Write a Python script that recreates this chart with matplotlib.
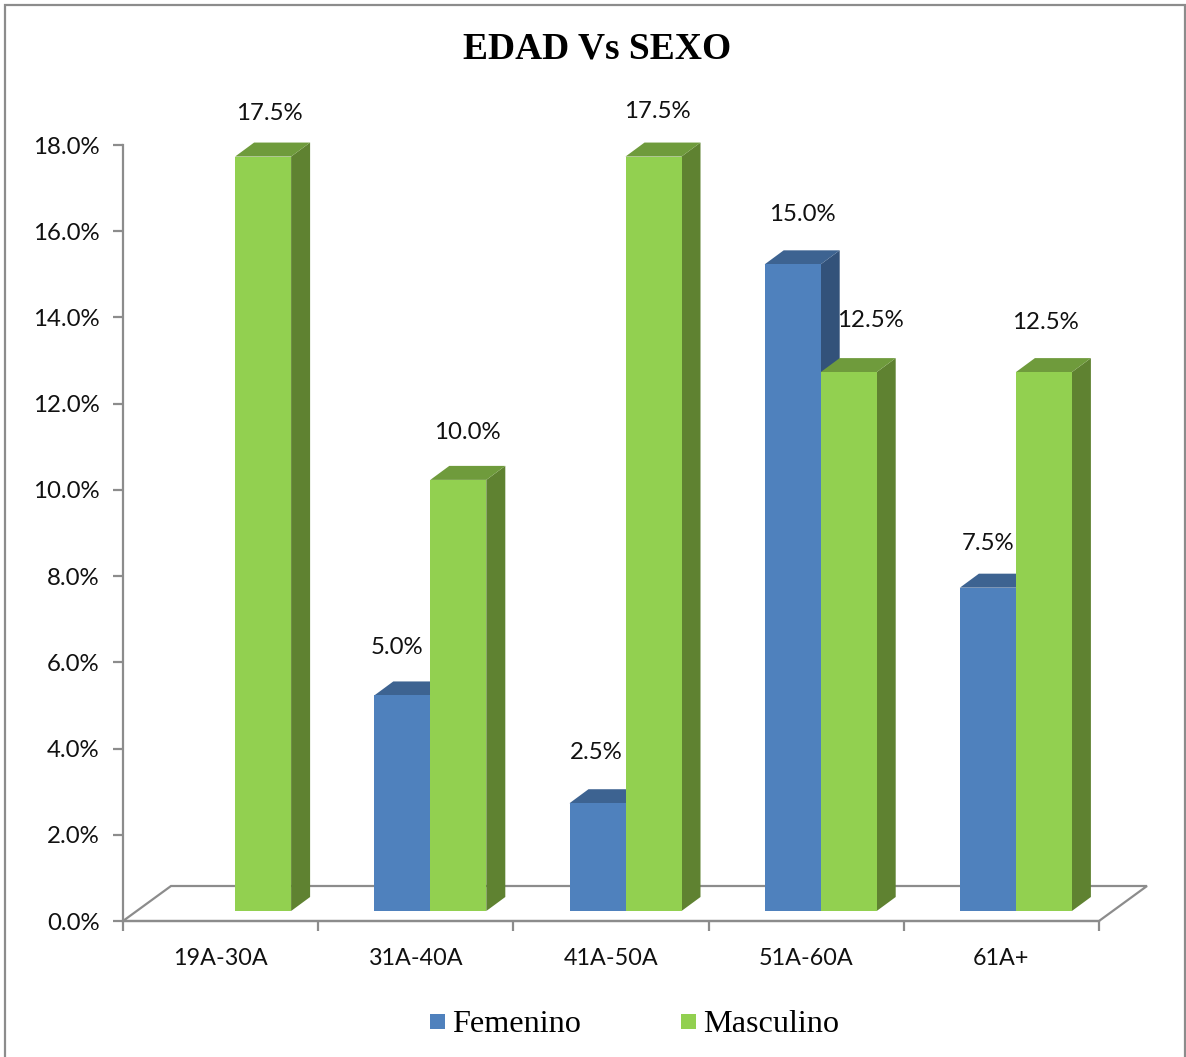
import matplotlib
matplotlib.use('Agg')
import matplotlib.pyplot as plt
from matplotlib.patches import Polygon, Rectangle
from matplotlib.transforms import ScaledTranslation

categories = ['19A-30A', '31A-40A', '41A-50A', '51A-60A', '61A+']
femenino = [0, 5.0, 2.5, 15.0, 7.5]
masculino = [17.5, 10.0, 17.5, 12.5, 12.5]
yticks = [0, 2, 4, 6, 8, 10, 12, 14, 16, 18]

W, H = 1186, 1057
SANS = 'Lato'
SERIF = 'Liberation Serif'
GREY = '#8c8c8c'

fig = plt.figure(figsize=(W / 100, H / 100), dpi=100)
fig.patch.set_facecolor('white')

# chart frame, open along the bottom edge
fig.add_artist(Rectangle((4.5 / W, -0.01), (1185 - 4.5) / W, 1.01 - 4.5 / H, transform=fig.transFigure,
                         fill=False, edgecolor=GREY, lw=1.6))

left, right, top, bottom = 123, 1099, 145, 921
ax = fig.add_axes([left / W, 1 - bottom / H, (right - left) / W, (bottom - top) / H])
ax.set_xlim(0, 5)
ax.set_ylim(0, 18)
ax.patch.set_alpha(0)

px_x = (right - left) / 5
px_y = (bottom - top) / 18

# pseudo-3D offsets in data units
base = 10 / px_y
depth_x, depth_y = 19 / px_x, 14 / px_y
floor_x, floor_y = 48 / px_x, 35 / px_y
bar_w = 56 / px_x
shift = 14.5 / px_x

for s in ['top', 'right']:
    ax.spines[s].set_visible(False)
for s in ['left', 'bottom']:
    ax.spines[s].set_color(GREY)
    ax.spines[s].set_linewidth(1.6)

ax.set_xticks(range(6))
ax.set_xticklabels([])
ax.set_xticks([i + 0.5 for i in range(5)], minor=True)
ax.set_xticklabels(categories, minor=True, fontsize=16.8, family=SANS, color='#111111')
ax.tick_params(axis='x', which='major', length=7, width=1.6, color=GREY, direction='out')
ax.tick_params(axis='x', which='minor', length=0, pad=19.5)
ax.set_yticks(yticks)
ax.set_yticklabels([f'{v:.1f}%' for v in yticks], fontsize=17.3, family=SANS, color='#111111',
                   va='center')
ax.tick_params(axis='y', length=7, width=1.6, color=GREY, pad=10)

# drop the y labels slightly so the digits centre on their ticks
down = ScaledTranslation(0, -2 / 100, fig.dpi_scale_trans)
for label in ax.get_yticklabels():
    label.set_transform(label.get_transform() + down)

# floor outline behind the bars
ax.add_patch(Polygon([(0, 0), (floor_x, floor_y), (5 + floor_x, floor_y), (5, 0)], closed=True,
                     fill=False, edgecolor=GREY, lw=1.6, clip_on=False, zorder=1))


def draw_bar(x, value, front, side, roof, z):
    if value == 0:
        return
    y0, y1 = base, base + value
    x1 = x + bar_w
    ax.bar(x, value, bar_w, bottom=base, align='edge', color=front, zorder=z + 1)
    ax.add_patch(Polygon([(x1, y0), (x1 + depth_x, y0 + depth_y), (x1 + depth_x, y1 + depth_y), (x1, y1)],
                         closed=True, facecolor=side, edgecolor='none', clip_on=False, zorder=z))
    ax.add_patch(Polygon([(x, y1), (x + depth_x, y1 + depth_y), (x1 + depth_x, y1 + depth_y), (x1, y1)],
                         closed=True, facecolor=roof, edgecolor='none', clip_on=False, zorder=z))


# label nudges in pixels from the top centre of each bar
fem_nudge = [(0, 0), (-5, 48), (-1, 51), (10, 50), (0, 44)]
mas_nudge = [(6, 43), (9, 47), (4, 45), (22, 52), (2, 50)]

for i in range(5):
    mid = i + 0.5 + shift
    draw_bar(mid - bar_w, femenino[i], '#4f81bd', '#33527a', '#3d6391', 4 + 4 * i)
    draw_bar(mid, masculino[i], '#92d050', '#5f8231', '#6f9b3c', 6 + 4 * i)

for i in range(5):
    mid = i + 0.5 + shift
    if femenino[i] > 0:
        ax.annotate(f'{femenino[i]:.1f}%', (mid - bar_w / 2, base + femenino[i]),
                    xytext=(fem_nudge[i][0] * 0.72, fem_nudge[i][1] * 0.72), textcoords='offset points',
                    ha='center', va='center', fontsize=17.3, family=SANS, color='#111111',
                    annotation_clip=False, zorder=50)
    ax.annotate(f'{masculino[i]:.1f}%', (mid + bar_w / 2, base + masculino[i]),
                xytext=(mas_nudge[i][0] * 0.72, mas_nudge[i][1] * 0.72), textcoords='offset points',
                ha='center', va='center', fontsize=17.3, family=SANS, color='#111111',
                annotation_clip=False, zorder=50)

fig.text(597 / W, 1 - 49 / H, 'EDAD Vs SEXO', ha='center', va='center', family=SERIF,
         fontsize=27, fontweight='bold', color='black')

# legend drawn by hand so the swatches sit on the text baseline
for px, name, colour in [(430, 'Femenino', '#4f81bd'), (681, 'Masculino', '#92d050')]:
    fig.add_artist(Rectangle((px / W, 1 - 1029 / H), 15 / W, 15 / H, transform=fig.transFigure,
                             facecolor=colour, edgecolor='none'))
    fig.text((px + 22.5) / W, 1 - 1024 / H, name, ha='left', va='center', family=SERIF,
             fontsize=23.2, color='black')

fig.savefig('out.png', dpi=100)
